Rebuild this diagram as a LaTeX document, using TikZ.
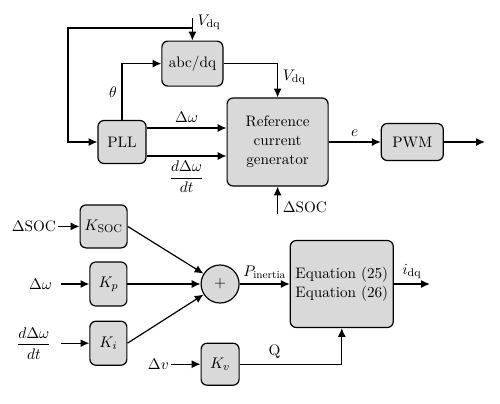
\documentclass[tikz,border=0pt]{standalone}
\usepackage{amsmath,amssymb}
\usepackage{xcolor}
\usetikzlibrary{shapes,arrows.meta,positioning,calc}

\begin{document}
\begin{tikzpicture}[
    font=\fontsize{10.8}{13.5}\selectfont,
    block/.style={rectangle, draw, line width=0.85pt, rounded corners=0.15cm, align=center, fill=black!15, inner sep=1pt},
    sumnode/.style={circle, draw, line width=0.85pt, fill=black!15, minimum size=0.95cm, inner sep=0pt},
    signal/.style={inner sep=1pt},
    arrow/.style={line width=0.85pt, -{Latex[length=2.2mm,width=2mm]}}]

    \useasboundingbox (0,0) rectangle (12.5,-10.075);

    % Upper part: reference current generation
    \node[block, minimum width=1.2cm, minimum height=1.075cm] (pll) at (3.05,-3.55) {PLL};
    \node[block, minimum width=1.525cm, minimum height=1.125cm] (abc) at (4.81,-1.59) {abc/dq};
    \node[block, minimum width=2.525cm, minimum height=2.2cm] (rcg) at (6.94,-3.55) {Reference\\current\\generator};
    \node[block, right=1.3cm of rcg, minimum width=1.55cm, minimum height=0.925cm] (pwm) {PWM};
    \coordinate (vin) at (4.81,-0.45);
    \coordinate (tap) at (4.81,-0.7);
    \coordinate (loop) at (1.7,-0.7);
    \coordinate[right=1.025cm of pwm] (pwmout);
    \coordinate[below=0.675cm of rcg.south] (socin);

    \draw[arrow] (vin) -- (abc.north) node[pos=0.2, right] {$V_{\mathrm{dq}}$};
    \draw[arrow] (tap) -- (loop) |- (pll.west);
    \draw[arrow] (pll.north) |- (abc.west) node[pos=0.25, left] {$\theta$};
    \draw[arrow] (abc.east) -| (rcg.north) node[pos=0.7, right] {$V_{\mathrm{dq}}$};
    \draw[arrow] ([yshift=0.35cm]pll.east) -- ([yshift=0.35cm]rcg.west) node[midway, above] {$\Delta\omega$};
    \draw[arrow] ([yshift=-0.35cm]pll.east) -- ([yshift=-0.35cm]rcg.west) node[midway, below] {$\dfrac{d\Delta\omega}{dt}$};
    \draw[arrow] (rcg) -- (pwm) node[midway, above] {$e$};
    \draw[arrow] (pwm) -- (pwmout);
    \draw[arrow] (socin) -- (rcg.south) node[pos=0.25, right] {$\Delta$SOC};

    % Lower part: inertia power and current reference
    \node[block, minimum width=1.175cm, minimum height=1.075cm] (ksoc) at (2.59,-5.66) {$K_{\mathrm{SOC}}$};
    \node[block, minimum width=0.925cm, minimum height=1.1cm] (kp) at (2.71,-7.1) {$K_p$};
    \node[block, below=0.35cm of kp, minimum width=0.925cm, minimum height=1.1cm] (ki) {$K_i$};
    \node[sumnode, right=1.825cm of kp] (sum) {$+$};
    \node[block, below=0.975cm of sum, minimum width=0.95cm, minimum height=1.05cm] (kv) {$K_v$};
    \node[block, right=1.25cm of sum, minimum width=2.575cm, minimum height=2.175cm] (eq) {Equation (25)\\Equation (26)};
    \coordinate[right=0.9cm of eq] (eqout);

    \node[signal, left=0.55cm of ksoc] (dsoc) {$\Delta$SOC};
    \node[signal, left=0.7cm of kp, inner xsep=0.225cm] (dw) {$\Delta\omega$};
    \node[signal, left=0.7cm of ki, inner xsep=0.25cm] (dwdt) {$\dfrac{d\Delta\omega}{dt}$};
    \node[signal, left=0.75cm of kv] (dv) {$\Delta v$};

    \draw[arrow] (dsoc) -- (ksoc);
    \draw[arrow] (dw) -- (kp);
    \draw[arrow] (dwdt) -- (ki);
    \draw[arrow] (dv) -- (kv);
    \draw[arrow] (ksoc.east) -- (sum);
    \draw[arrow] (kp) -- (sum);
    \draw[arrow] (ki.east) -- (sum);
    \draw[arrow] (sum) -- (eq) node[midway, above] {$P_{\text{inertia}}$};
    \draw[arrow] (eq) -- (eqout) node[midway, above] {$i_{\mathrm{dq}}$};
    \draw[arrow] (kv) -| (eq) node[pos=0.17, above] {Q};

\end{tikzpicture}
\end{document}
